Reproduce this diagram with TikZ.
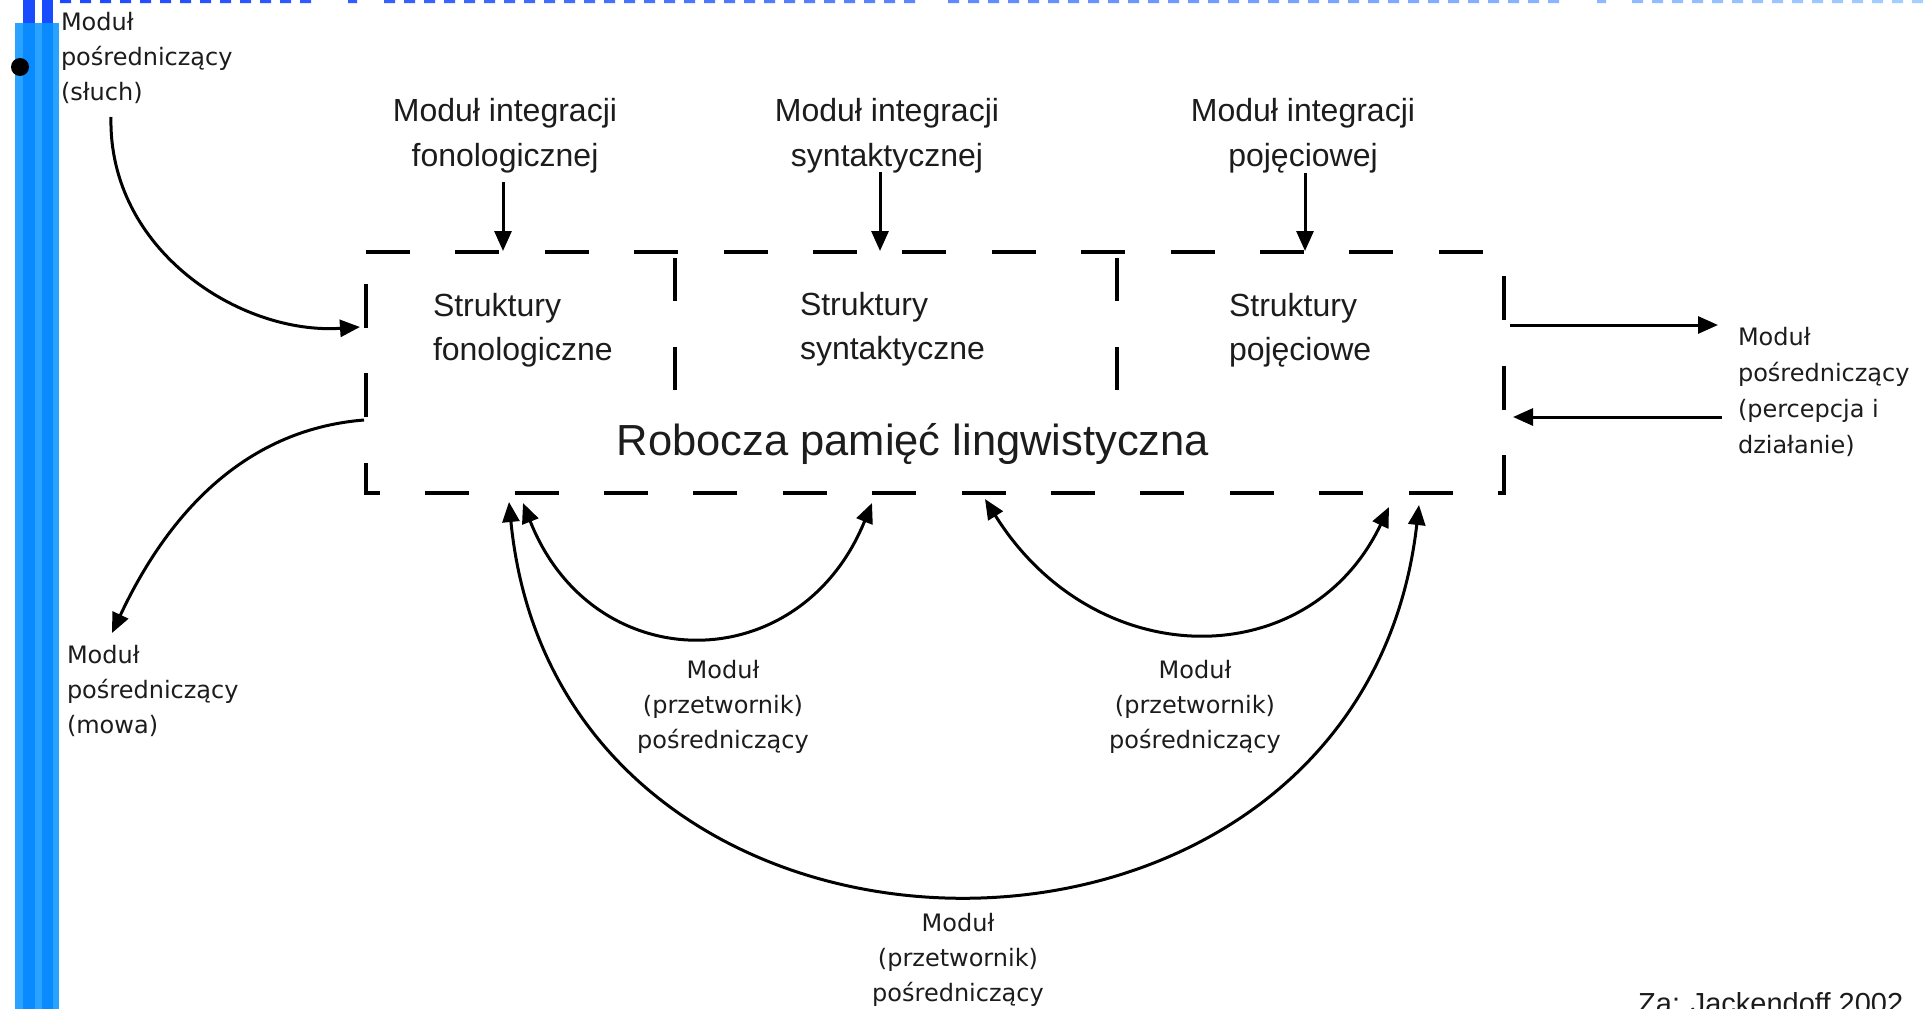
\documentclass[tikz,border=0pt]{standalone}
\usepackage{fontspec}
\setmainfont{Liberation Sans}
\newfontfamily\smallf{DejaVu Sans}
\usetikzlibrary{arrows.meta}
\definecolor{txt}{RGB}{28,28,28}
\definecolor{barlight}{RGB}{41,163,255}
\definecolor{barmid}{RGB}{10,138,255}
\definecolor{bartop}{RGB}{25,75,255}
\definecolor{dashdark}{RGB}{30,72,255}
\definecolor{dashlight}{RGB}{165,208,255}
\tikzset{
  lab/.style={inner sep=0pt, outer sep=0pt, text=txt, font=\fontsize{32}{45}\selectfont, align=center, anchor=north},
  strk/.style={inner sep=0pt, outer sep=0pt, text=txt, font=\fontsize{32}{44}\selectfont, align=left, anchor=north west},
  sm/.style={inner sep=0pt, outer sep=0pt, text=txt, font=\smallf\fontsize{24}{35}\selectfont},
  wire/.style={line width=3pt, draw=black},
  arr/.style={wire, -{Triangle[length=20pt,width=17pt]}},
  darr/.style={wire, {Triangle[length=20pt,width=17pt]}-{Triangle[length=20pt,width=17pt]}},
  boxline/.style={line width=3.5pt, dash pattern=on 44pt off 45.4pt},
  divline/.style={line width=3.5pt, dash pattern=on 43pt off 46pt},
}
\begin{document}
\begin{tikzpicture}[x=1pt,y=-1pt]
\useasboundingbox[fill=white] (0,0) rectangle (1931,1009);

% left slide bars
\fill[barlight] (15,23) rectangle (59,1009);
\fill[barmid] (23,23) rectangle (35,1009);
\fill[barmid] (42,23) rectangle (53,1009);
\fill[bartop] (23,0) rectangle (35,23);
\fill[bartop] (42,0) rectangle (53,23);
\fill[black] (20,67) circle[radius=9pt];

% top dashed gradient line
\begin{scope}
  \path[clip] foreach \x in {60,80,...,300} {(\x,0) rectangle ++(11,3)}
              (348,0) rectangle ++(9,3)
              foreach \x in {384,404,...,904} {(\x,0) rectangle ++(11,3)}
              foreach \x in {948,968,...,1548} {(\x,0) rectangle ++(11,3)}
              (1597,0) rectangle ++(9,3)
              foreach \x in {1632,1652,...,1912} {(\x,0) rectangle ++(11,3)};
  \shade[left color=dashdark, right color=dashlight] (60,0) rectangle (1931,3);
\end{scope}

% working memory box
\coordinate (bTL) at (366,252);
\coordinate (bTR) at (1504,252);
\coordinate (bBR) at (1504,493);
\coordinate (bBL) at (366,493);
\draw[boxline] (bTL) -- (bTR) -- (bBR) -- (bBL) -- cycle;
\coordinate (d1a) at (675,258); \coordinate (d1b) at (675,392);
\coordinate (d2a) at (1117,258); \coordinate (d2b) at (1117,392);
\draw[divline] (d1a) -- (d1b);
\draw[divline] (d2a) -- (d2b);

% texts in the box
\node[strk] (sF) at (433,293) {Struktury\\fonologiczne};
\node[strk] (sS) at (800,292) {Struktury\\syntaktyczne};
\node[strk] (sP) at (1229,293) {Struktury\\pojęciowe};
\node[inner sep=0pt, text=txt, font=\fontsize{43.5}{50}\selectfont, anchor=base] (wm) at (913,455) {Robocza pamięć lingwistyczna};

% integration modules
\node[lab] (intF) at (505,98) {Moduł integracji\\fonologicznej};
\node[lab] (intS) at (887,98) {Moduł integracji\\syntaktycznej};
\node[lab] (intP) at (1303,98) {Moduł integracji\\pojęciowej};
\coordinate (fA) at (503,182); \coordinate (fB) at (503,251);
\coordinate (yA) at (880,172); \coordinate (yB) at (880,251);
\coordinate (pA) at (1305,173); \coordinate (pB) at (1305,251);
\draw[arr] (fA) -- (fB);
\draw[arr] (yA) -- (yB);
\draw[arr] (pA) -- (pB);

% interface modules
\node[sm, align=left, anchor=north west] (mSluch) at (61,12) {Moduł\\pośredniczący\\(słuch)};
\node[sm, align=left, anchor=north west] (mMowa) at (67,645) {Moduł\\pośredniczący\\(mowa)};
\node[sm, align=left, anchor=north west, font=\smallf\fontsize{24}{36}\selectfont] (mPerc) at (1738,327) {Moduł\\pośredniczący\\(percepcja i\\działanie)};

\coordinate (slA) at (111,117); \coordinate (slB) at (360,327);
\draw[arr] (slA) .. controls (108,250) and (240,335) .. (slB);
\coordinate (mwA) at (364,420); \coordinate (mwB) at (112,633);
\draw[arr] (mwA) .. controls (240,430) and (165,520) .. (mwB);

\coordinate (prA) at (1510,325); \coordinate (prB) at (1718,325);
\draw[arr] (prA) -- (prB);
\coordinate (piA) at (1722,417); \coordinate (piB) at (1513,417);
\draw[arr] (piA) -- (piB);

% bottom transducer arcs
\coordinate (aL1) at (523,503); \coordinate (aL2) at (872,503);
\draw[darr] (aL1) .. controls (593,680) and (800,680) .. (aL2);
\coordinate (aR1) at (985,499); \coordinate (aR2) at (1389,507);
\draw[darr] (aR1) .. controls (1095,675) and (1309,675) .. (aR2);
\coordinate (aB1) at (509,502); \coordinate (aB2) at (1419,505);
\draw[darr] (aB1) .. controls (560,1022) and (1360,1025) .. (aB2);

\node[sm, align=center, anchor=north] (mL) at (723,660) {Moduł\\(przetwornik)\\pośredniczący};
\node[sm, align=center, anchor=north] (mR) at (1195,660) {Moduł\\(przetwornik)\\pośredniczący};
\node[sm, align=center, anchor=north] (mB) at (958,913) {Moduł\\(przetwornik)\\pośredniczący};

\node[inner sep=0pt, text=txt, font=\fontsize{29}{35}\selectfont, anchor=base west] (src) at (1638,1013) {Za: Jackendoff 2002};
\end{tikzpicture}
\end{document}
